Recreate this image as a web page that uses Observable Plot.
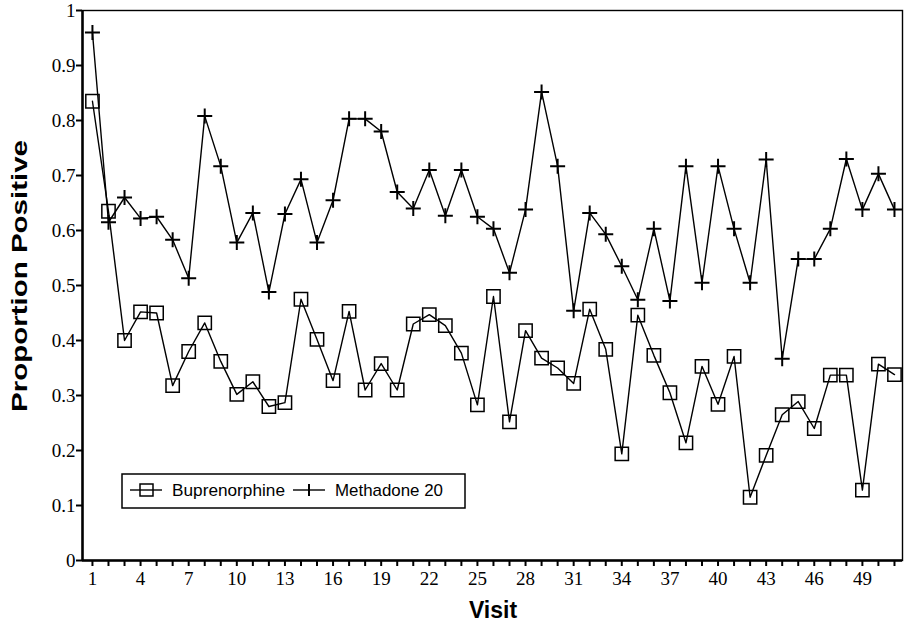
<!DOCTYPE html>
<html><head><meta charset="utf-8">
<script src="https://cdn.jsdelivr.net/npm/d3@7"></script>
<script src="https://cdn.jsdelivr.net/npm/@observablehq/plot@0.6"></script>
<style>body{margin:0;background:#fff} #chart{width:906px;height:622px}</style>
</head><body><div id="chart"></div>
<script>
const visits = [1,2,3,4,5,6,7,8,9,10,11,12,13,14,15,16,17,18,19,20,21,22,23,24,25,26,27,28,29,30,31,32,33,34,35,36,37,38,39,40,41,42,43,44,45,46,47,48,49,50,51];
const buprenorphine = [0.835,0.635,0.400,0.452,0.450,0.318,0.380,0.432,0.362,0.302,0.325,0.280,0.287,0.475,0.402,0.327,0.453,0.310,0.358,0.310,0.430,0.447,0.427,0.377,0.283,0.480,0.252,0.418,0.368,0.350,0.322,0.457,0.384,0.194,0.446,0.373,0.305,0.214,0.353,0.284,0.371,0.115,0.191,0.265,0.289,0.240,0.337,0.337,0.128,0.357,0.338];
const methadone20 = [0.960,0.615,0.660,0.622,0.625,0.583,0.513,0.808,0.717,0.578,0.632,0.488,0.630,0.693,0.578,0.655,0.803,0.803,0.780,0.670,0.640,0.710,0.627,0.710,0.625,0.603,0.523,0.638,0.852,0.717,0.454,0.632,0.593,0.535,0.474,0.603,0.472,0.717,0.505,0.717,0.603,0.505,0.729,0.367,0.548,0.548,0.603,0.730,0.638,0.703,0.638];
const yTicks = [0,0.1,0.2,0.3,0.4,0.5,0.6,0.7,0.8,0.9,1];
const xLabelTicks = [1,4,7,10,13,16,19,22,25,28,31,34,37,40,43,46,49];
const seriesNames = ["Buprenorphine","Methadone 20"];
const xDomain = [0.38, 51.5];

const bup = visits.map((v,i)=>({visit:v, value:buprenorphine[i]}));
const met = visits.map((v,i)=>({visit:v, value:methadone20[i]}));

const serif = "'Liberation Serif','Times New Roman',serif";
const sans = "'Liberation Sans',Arial,sans-serif";

const svg = Plot.plot({
  width:906, height:622,
  marginLeft:82, marginRight:4, marginTop:10, marginBottom:62,
  style:{background:"#fff", color:"#000", fontFamily:serif},
  x:{domain:xDomain},
  y:{domain:[0,1]},
  marks:[
    Plot.frame({stroke:"#000", strokeWidth:1.4}),
    Plot.ruleY([0], {stroke:"#000", strokeWidth:2.5}),
    Plot.ruleX([xDomain[0]], {stroke:"#000", strokeWidth:2.5}),
    Plot.axisY({ticks:yTicks, tickFormat:d=>String(+d.toFixed(1)), tickSize:6, tickPadding:1, strokeWidth:2, fontSize:19, fontFamily:serif, label:null}),
    Plot.axisX({ticks:visits, tickFormat:d=>xLabelTicks.includes(d)?String(d):"", tickSize:6, tickPadding:5, strokeWidth:2, fontSize:19, fontFamily:serif, label:null}),
    Plot.line(bup, {x:"visit", y:"value", stroke:"#000", strokeWidth:1.4}),
    Plot.line(met, {x:"visit", y:"value", stroke:"#000", strokeWidth:1.4}),
    Plot.dot(bup, {x:"visit", y:"value", symbol:"square", r:7.5, stroke:"#000", strokeWidth:1.5, fill:"none"}),
    Plot.dot(met, {x:"visit", y:"value", symbol:"plus", r:4.9, stroke:"#000", strokeWidth:2})
  ]
});
document.getElementById("chart").appendChild(svg);

const s = d3.select(svg);
s.append("text")
  .attr("transform","translate(27,276) rotate(-90)")
  .attr("text-anchor","middle")
  .attr("font-family",sans).attr("font-weight","bold").attr("font-size",22)
  .attr("textLength",272).attr("lengthAdjust","spacingAndGlyphs")
  .attr("fill","#000")
  .text("Proportion Positive");
s.append("text")
  .attr("x",493).attr("y",618)
  .attr("text-anchor","middle")
  .attr("font-family",sans).attr("font-weight","bold").attr("font-size",23)
  .attr("fill","#000")
  .text("Visit");

const lg = s.append("g").attr("text-anchor","start");
lg.append("rect").attr("x",122).attr("y",474).attr("width",343).attr("height",34)
  .attr("fill","#fff").attr("stroke","#000").attr("stroke-width",1.5);
// Buprenorphine sample
lg.append("line").attr("x1",130).attr("x2",162).attr("y1",490).attr("y2",490).attr("stroke","#000").attr("stroke-width",1.4);
lg.append("rect").attr("x",140).attr("y",484).attr("width",13).attr("height",12).attr("fill","none").attr("stroke","#000").attr("stroke-width",1.5);
lg.append("text").attr("x",172).attr("y",496).attr("text-anchor","start").attr("font-family",sans).attr("font-size",17)
  .attr("textLength",113).attr("lengthAdjust","spacingAndGlyphs").attr("fill","#000").text(seriesNames[0]);
// Methadone sample
lg.append("line").attr("x1",293).attr("x2",325).attr("y1",490).attr("y2",490).attr("stroke","#000").attr("stroke-width",1.4);
lg.append("line").attr("x1",309).attr("x2",309).attr("y1",484).attr("y2",496).attr("stroke","#000").attr("stroke-width",2);
lg.append("text").attr("x",335).attr("y",496).attr("text-anchor","start").attr("font-family",sans).attr("font-size",17)
  .attr("textLength",108).attr("lengthAdjust","spacingAndGlyphs").attr("fill","#000").text(seriesNames[1]);
</script>
</body></html>
